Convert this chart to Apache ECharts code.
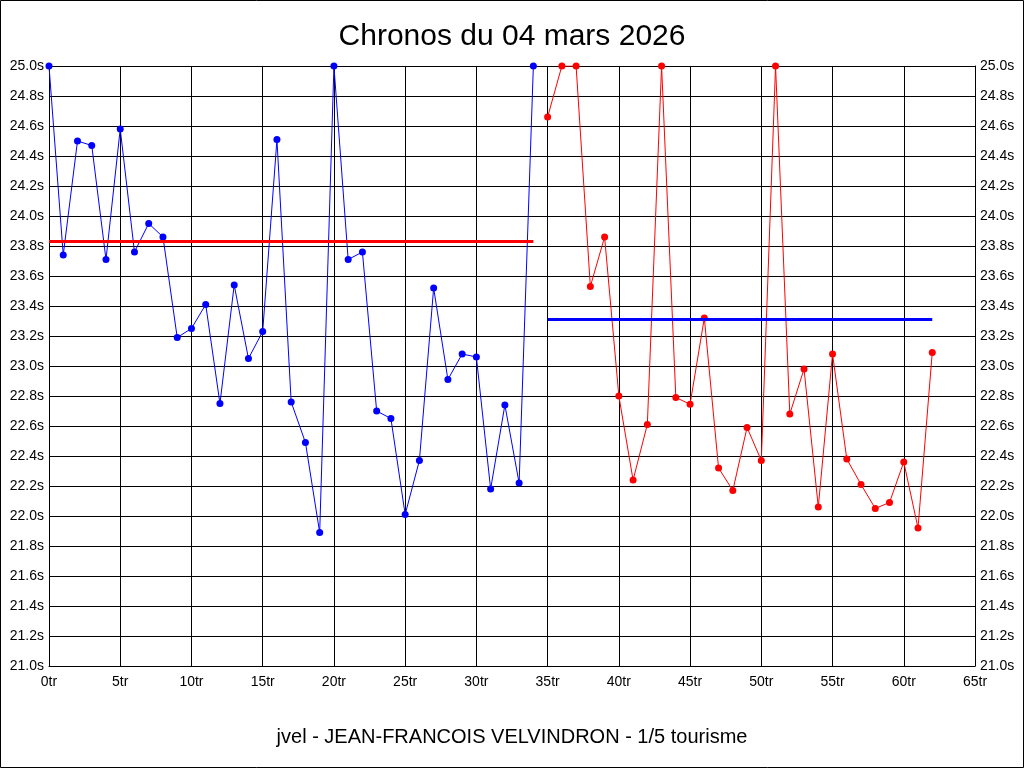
<!DOCTYPE html>
<html>
<head>
<meta charset="utf-8">
<script src="https://cdn.jsdelivr.net/npm/echarts@6/dist/echarts.min.js"></script>
<style>
html,body{margin:0;padding:0;background:#fff;}
#c{width:1024px;height:768px;}
</style>
</head>
<body>
<div id="c"></div>
<script>
const titleText = 'Chronos du 04 mars 2026';
const footerText = 'jvel - JEAN-FRANCOIS VELVINDRON - 1/5 tourisme';

const firstLaps = [0,1,2,3,4,5,6,7,8,9,10,11,12,13,14,15,16,17,18,19,20,21,22,23,24,25,26,27,28,29,30,31,32,33,34];
const firstTimes = [25.0,23.74,24.50,24.47,23.71,24.58,23.76,23.95,23.86,23.19,23.25,23.41,22.75,23.54,23.05,23.23,24.51,22.76,22.49,21.89,25.0,23.71,23.76,22.70,22.65,22.01,22.37,23.52,22.91,23.08,23.06,22.18,22.74,22.22,25.0];

const secondLaps = [35,36,37,38,39,40,41,42,43,44,45,46,47,48,49,50,51,52,53,54,55,56,57,58,59,60,61,62];
const secondTimes = [24.66,25.0,25.0,23.53,23.86,22.80,22.24,22.61,25.0,22.79,22.745,23.32,22.32,22.17,22.59,22.37,25.0,22.68,22.98,22.06,23.08,22.38,22.21,22.05,22.09,22.36,21.92,23.09];

const refLineA = {from: 0, to: 34, value: 23.83};
const refLineB = {from: 35, to: 62, value: 23.31};

const xMin = 0, xMax = 65, xStep = 5;
const yMin = 21.0, yMax = 25.0, yStep = 0.2;

function pairs(xs, ys){ return xs.map((x,i)=>[x, ys[i]]); }

const chart = echarts.init(document.getElementById('c'), null, {renderer:'canvas'});
const FONT = 'Liberation Sans, Arial, sans-serif';
const axisLabelStyle = {color:'#000', fontFamily:FONT, fontSize:14};
const yAxisBase = {
  type:'value', min:yMin, max:yMax, interval:yStep,
  axisLine:{show:true, lineStyle:{color:'#000', width:1}},
  axisTick:{show:false},
  axisLabel:Object.assign({margin:5, formatter:v=>v.toFixed(1)+'s'}, axisLabelStyle)
};
chart.setOption({
  animation:false,
  backgroundColor:'#fff',
  title:[
    {text:titleText, left:'center', top:17, textStyle:{fontFamily:FONT, fontSize:30, fontWeight:'normal', color:'#000'}},
    {text:footerText, left:'center', top:722, textStyle:{fontFamily:FONT, fontSize:20, fontWeight:'normal', color:'#000'}}
  ],
  graphic:[{type:'rect', shape:{x:0.5,y:0.5,width:1023,height:767}, style:{fill:'none', stroke:'#000', lineWidth:1}, silent:true}],
  grid:{left:49, right:49, top:66, bottom:102, containLabel:false},
  xAxis:{
    type:'value', min:xMin, max:xMax, interval:xStep,
    axisLine:{show:true, lineStyle:{color:'#000', width:1}},
    axisTick:{show:false},
    splitLine:{show:true, lineStyle:{color:'#000', width:1}},
    axisLabel:Object.assign({margin:9, formatter:v=>v+'tr'}, axisLabelStyle)
  },
  yAxis:[
    Object.assign({position:'left', splitLine:{show:true, lineStyle:{color:'#000', width:1}}}, yAxisBase),
    Object.assign({position:'right', splitLine:{show:false}}, yAxisBase)
  ],
  series:[
    {type:'line', data:pairs(firstLaps, firstTimes), symbol:'circle', symbolSize:7,
     lineStyle:{color:'#0000ff', width:1}, itemStyle:{color:'#0000ff'}, z:3},
    {type:'line', data:pairs(secondLaps, secondTimes), symbol:'circle', symbolSize:7,
     lineStyle:{color:'#ff0000', width:1}, itemStyle:{color:'#ff0000'}, z:3},
    {type:'line', data:[[refLineA.from, refLineA.value],[refLineA.to, refLineA.value]], symbol:'none',
     lineStyle:{color:'#ff0000', width:3}, z:4},
    {type:'line', data:[[refLineB.from, refLineB.value],[refLineB.to, refLineB.value]], symbol:'none',
     lineStyle:{color:'#0000ff', width:3}, z:4}
  ]
});
</script>
</body>
</html>
